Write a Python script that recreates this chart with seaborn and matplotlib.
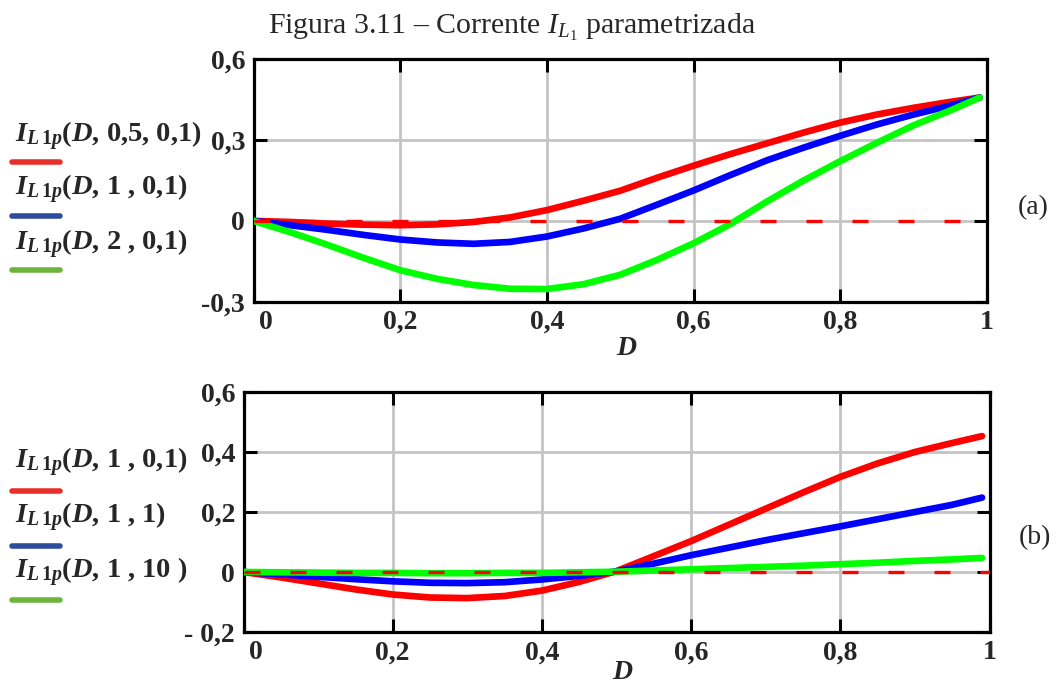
import numpy as np
import pandas as pd
import seaborn as sns
import matplotlib
matplotlib.use("Agg")
import matplotlib.pyplot as plt
from matplotlib.lines import Line2D
import matplotlib.transforms as mtransforms

# ---------------- data ----------------
D = [0.0, 0.05, 0.1, 0.15, 0.2, 0.25, 0.3, 0.35, 0.4, 0.45, 0.5,
     0.55, 0.6, 0.65, 0.7, 0.75, 0.8, 0.85, 0.9, 0.95, 0.99]

# panel (a)
a_red = [0, -0.004, -0.010, -0.014, -0.016, -0.013, -0.004, 0.013, 0.040, 0.075, 0.112,
         0.160, 0.205, 0.248, 0.288, 0.328, 0.365, 0.395, 0.420, 0.442, 0.458]
a_blue = [0, -0.016, -0.033, -0.052, -0.069, -0.080, -0.085, -0.078, -0.058, -0.028, 0.008,
          0.060, 0.113, 0.170, 0.225, 0.272, 0.316, 0.358, 0.395, 0.428, 0.458]
a_green = [0, -0.042, -0.088, -0.137, -0.183, -0.215, -0.238, -0.252, -0.253, -0.235, -0.200,
           -0.145, -0.083, -0.012, 0.072, 0.150, 0.222, 0.290, 0.355, 0.410, 0.458]

# panel (b)
b_red = [0, -0.018, -0.038, -0.058, -0.075, -0.085, -0.087, -0.080, -0.062, -0.033, 0.003,
         0.053, 0.103, 0.157, 0.211, 0.265, 0.317, 0.362, 0.400, 0.430, 0.453]
b_blue = [0, -0.008, -0.016, -0.024, -0.031, -0.036, -0.037, -0.034, -0.025, -0.013, 0.002,
          0.028, 0.056, 0.081, 0.106, 0.129, 0.152, 0.176, 0.200, 0.224, 0.248]
b_green = [0, -0.001, -0.002, -0.003, -0.003, -0.004, -0.004, -0.003, -0.003, -0.001, 0.001,
           0.005, 0.009, 0.013, 0.017, 0.021, 0.026, 0.031, 0.037, 0.042, 0.047]

I_sym = r"$\mathbfit{I}_{\mathbfit{L}\,\mathbf{1}\mathbfit{p}}$"
a_labels = [I_sym + r"($\mathbfit{D}$, 0,5, 0,1)",
            I_sym + r"($\mathbfit{D}$, 1 , 0,1)",
            I_sym + r"($\mathbfit{D}$, 2 , 0,1)"]
b_labels = [I_sym + r"($\mathbfit{D}$, 1 , 0,1)",
            I_sym + r"($\mathbfit{D}$, 1 , 1)",
            I_sym + r"($\mathbfit{D}$, 1 , 10 )"]

x_ticks = [0, 0.2, 0.4, 0.6, 0.8, 1.0]
x_ticklabels = ["0", "0,2", "0,4", "0,6", "0,8", "1"]
a_yticks = [-0.3, 0, 0.3, 0.6]
a_yticklabels = ["-0,3", "0", "0,3", "0,6"]
b_yticks = [-0.2, 0, 0.2, 0.4, 0.6]
b_yticklabels = ["- 0,2", "0", "0,2", "0,4", "0,6"]

title = r"Figura 3.11 – Corrente $I_{L_{\mathrm{1}}}$ parametrizada"

# ---------------- style ----------------
sns.set_style("white")
plt.rcParams.update({
    "font.family": ["Liberation Serif", "DejaVu Serif"],
    "mathtext.fontset": "custom",
    "mathtext.rm": "Liberation Serif",
    "mathtext.it": "Liberation Serif:italic",
    "mathtext.bf": "Liberation Serif:bold",
    "mathtext.bfit": "Liberation Serif:italic:bold",
})

curve_colors = ["#ff0000", "#0000ff", "#00ff00"]
legend_colors = ["#e8302a", "#2e4c9e", "#6cb43c"]

W, H = 1059, 689
fig = plt.figure(figsize=(W / 100, H / 100), dpi=100)

ax1 = fig.add_axes([253.5 / W, 1 - 301.7 / H, (987 - 253.5) / W, (301.7 - 59.3) / H])
ax2 = fig.add_axes([243.5 / W, 1 - 632 / H, (989.5 - 243.5) / W, (632 - 392) / H])


def draw(ax, series, yticks, yticklabels, ylim, label_y):
    for vals, col in zip(series, curve_colors):
        df = pd.DataFrame({"D": D, "I": vals})
        sns.lineplot(data=df, x="D", y="I", ax=ax, color=col, lw=4.8,
                     solid_capstyle="round", zorder=3, legend=False)
    ax.axhline(0, color="#ff0000", lw=2.4, linestyle=(0, (4.8, 9)), zorder=4)
    ax.set_xlim(0, 1)
    ax.set_ylim(*ylim)
    ax.set_xticks(x_ticks)
    ax.set_xticklabels(x_ticklabels)
    ax.set_yticks(yticks)
    ax.set_yticklabels(yticklabels)
    ax.grid(True, color="#c4c4c4", lw=2.0, zorder=0)
    ax.set_axisbelow(True)
    for s in ax.spines.values():
        s.set_visible(True)
        s.set_color("black")
        s.set_linewidth(2.3)
    ax.tick_params(axis="both", which="both", direction="in", length=9.5, width=2.2,
                   top=True, right=True, bottom=True, left=True, color="black",
                   labelsize=20, pad=6)
    for lab in ax.get_xticklabels() + ax.get_yticklabels():
        lab.set_fontweight("bold")
    off = mtransforms.ScaledTranslation(0.12, 0, fig.dpi_scale_trans)
    first = ax.get_xticklabels()[0]
    first.set_transform(first.get_transform() + off)
    ax.set_ylabel("")
    ax.set_xlabel(r"$\mathbfit{D}$", fontsize=20)
    ax.xaxis.set_label_coords(0.509, label_y)


draw(ax1, [a_red, a_blue, a_green], a_yticks, a_yticklabels, (-0.3, 0.6), -0.14)
draw(ax2, [b_red, b_blue, b_green], b_yticks, b_yticklabels, (-0.2, 0.6), -0.118)

# title
fig.text(512 / W, 1 - 27 / H, title, ha="center", va="center", fontsize=21.5)

# panel tags
fig.text(1033 / W, 1 - 208 / H, "(a)", ha="center", va="center", fontsize=20)
fig.text(1035 / W, 1 - 538 / H, "(b)", ha="center", va="center", fontsize=20)

# left legends
a_base = [142, 195, 250]
a_under = [162, 216, 270]
b_base = [468, 523, 578]
b_under = [491, 546, 600]
for labels, bases, unders in [(a_labels, a_base, a_under), (b_labels, b_base, b_under)]:
    for lab, yb, yu, col in zip(labels, bases, unders, legend_colors):
        fig.text(15 / W, 1 - yb / H, lab, ha="left", va="baseline",
                 fontsize=20.5, fontweight="bold")
        fig.add_artist(Line2D([12 / W, 60 / W], [1 - yu / H, 1 - yu / H],
                              transform=fig.transFigure, color=col, lw=4,
                              solid_capstyle="round"))

fig.savefig("out.png", dpi=100)
